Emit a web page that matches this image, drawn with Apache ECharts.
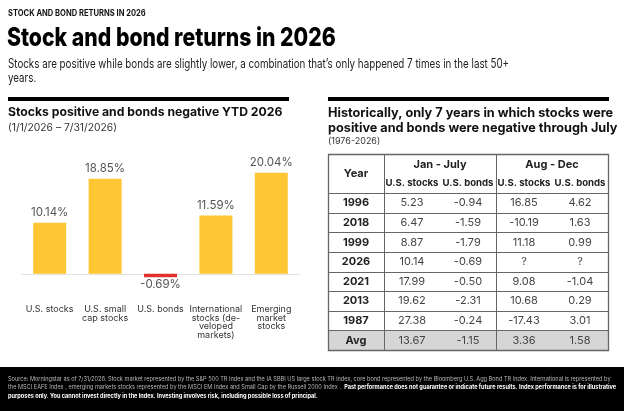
<!DOCTYPE html>
<html>
<head>
<meta charset="utf-8">
<script src="https://cdn.jsdelivr.net/npm/echarts@6/dist/echarts.min.js"></script>
<style>
html,body{margin:0;padding:0;background:#fff;}
#c{width:624px;height:411px;}
</style>
</head>
<body>
<div id="c"></div>
<script>
// ---- Data ----
const barCategories = ['U.S. stocks', 'U.S. small\ncap stocks', 'U.S. bonds', 'International\nstocks (de-\nveloped\nmarkets)', 'Emerging\nmarket\nstocks'];
const barValues = [10.14, 18.85, -0.69, 11.59, 20.04];

const tableYears = ['1996', '2018', '1999', '2026', '2021', '2013', '1987', 'Avg'];
const janStocks = [5.23, 6.47, 8.87, 10.14, 17.99, 19.62, 27.38, 13.67];
const janBonds = [-0.94, -1.59, -1.79, -0.69, -0.50, -2.31, -0.24, -1.15];
const augStocks = [16.85, -10.19, 11.18, null, 9.08, 10.68, -17.43, 3.36];
const augBonds = [4.62, 1.63, 0.99, null, -1.04, 0.29, 3.01, 1.58];
const groupHeaders = ['Jan - July', 'Aug - Dec'];
const subHeaders = ['U.S. stocks', 'U.S. bonds', 'U.S. stocks', 'U.S. bonds'];

const FONT = 'Inter, "Noto Sans", sans-serif';
const YELLOW = '#FFC634';
const RED = '#E0312B';

// ---- Build table cells ----
const tableCols = ['c0', 'c1', 'c2', 'c3', 'c4'];
const tableRows = ['h0', 'h1'].concat(tableYears);
const cells = [];
cells.push({ col: 0, row: 0, text: 'Year', rowSpan: 2, kind: 'head' });
groupHeaders.forEach((g, i) => cells.push({ col: 1 + i * 2, row: 0, text: g, colSpan: 2, kind: 'head' }));
subHeaders.forEach((s, i) => cells.push({ col: 1 + i, row: 1, text: s, kind: 'sub' }));
const fmt = v => (v === null ? '?' : v.toFixed(2));
tableYears.forEach((y, i) => {
  const r = i + 2;
  const avg = y === 'Avg';
  cells.push({ col: 0, row: r, text: y, kind: 'year', avg });
  [janStocks, janBonds, augStocks, augBonds].forEach((arr, j) => {
    cells.push({ col: 1 + j, row: r, text: fmt(arr[i]), kind: 'val', avg });
  });
});

// lines: horizontal below rows 1..8, vertical right of col 0 and col 2, outer box
const lines = [];
for (let r = 1; r <= 8; r++) lines.push({ t: 'h', row: r });
lines.push({ t: 'v', col: 0 });
lines.push({ t: 'v', col: 2 });
lines.push({ t: 'box' });

const chart = echarts.init(document.getElementById('c'), null, { renderer: 'canvas' });

const footerGray = '#b8b8b8';
const BORDER = '#666';
const option = {
  backgroundColor: '#fff',
  animation: false,
  textStyle: { fontFamily: FONT },
  grid: [
    { left: 22, right: 325, top: 163, bottom: 112, containLabel: false },
    { left: 328, width: 280, top: 154, height: 196, containLabel: false }
  ],
  xAxis: [
    {
      gridIndex: 0, type: 'category', data: barCategories,
      axisLine: { onZero: true, lineStyle: { color: '#e2e2e2', width: 1 } },
      axisTick: { show: false },
      axisLabel: { margin: 6, fontSize: 9, lineHeight: 8.6, color: '#333', fontFamily: FONT, interval: 0 }
    },
    { gridIndex: 1, type: 'category', data: tableCols, show: false }
  ],
  yAxis: [
    { gridIndex: 0, type: 'value', min: -5, max: 22, show: false, splitLine: { show: false } },
    { gridIndex: 1, type: 'category', data: tableRows, inverse: true, show: false }
  ],
  series: [
    {
      type: 'bar', xAxisIndex: 0, yAxisIndex: 0,
      barWidth: 33,
      data: barValues.map(v => ({
        value: v,
        itemStyle: { color: v < 0 ? RED : YELLOW },
        label: { position: v < 0 ? 'bottom' : 'top', distance: v < 0 ? 1 : 4 }
      })),
      label: {
        show: true, fontSize: 11.5, color: '#555', fontFamily: FONT,
        formatter: p => p.value.toFixed(2) + '%'
      }
    },
    {
      type: 'custom', xAxisIndex: 1, yAxisIndex: 1, silent: true, clip: false,
      data: cells.map(c => [c.col, c.row]),
      renderItem: function (params, api) {
        const cell = cells[params.dataIndex];
        const p = api.coord([api.value(0), api.value(1)]);
        const s = api.size([1, 1]);
        let cx = p[0], cy = p[1], w = s[0], h = s[1];
        if (cell.colSpan) { cx += w * (cell.colSpan - 1) / 2; w *= cell.colSpan; }
        if (cell.rowSpan) { cy += h * (cell.rowSpan - 1) / 2; h *= cell.rowSpan; }
        const children = [];
        if (cell.avg) {
          children.push({ type: 'rect', shape: { x: cx - w / 2, y: cy - h / 2, width: w, height: h }, style: { fill: '#d6d6d6' } });
        }
        const bold = cell.kind !== 'val';
        let fs = 11;
        if (cell.kind === 'sub') fs = 9.6;
        if (cell.kind === 'head') fs = 11;
        let dy = 0;
        if (cell.kind === 'head' && !cell.rowSpan) dy = 1;
        if (cell.kind === 'sub') dy = -0.5;
        children.push({
          type: 'text',
          style: {
            x: cx, y: cy + dy, text: cell.text, align: 'center', verticalAlign: 'middle',
            fontSize: fs, fontWeight: bold ? 'bold' : 'normal', fontFamily: FONT,
            fill: bold ? '#222' : '#444'
          }
        });
        return { type: 'group', children };
      }
    },
    {
      type: 'custom', xAxisIndex: 1, yAxisIndex: 1, silent: true, clip: false, z: 5,
      data: lines.map(() => [0, 0]),
      renderItem: function (params, api) {
        const ln = lines[params.dataIndex];
        const s = api.size([1, 1]);
        const tl = api.coord([0, 0]);
        const br = api.coord([tableCols.length - 1, tableRows.length - 1]);
        const x0 = tl[0] - s[0] / 2, x1 = br[0] + s[0] / 2;
        const y0 = tl[1] - s[1] / 2, y1 = br[1] + s[1] / 2;
        const st = { stroke: BORDER, lineWidth: 1, fill: null };
        if (ln.t === 'h') {
          const y = Math.round(api.coord([0, ln.row])[1] + s[1] / 2) + 0.5;
          return { type: 'line', shape: { x1: x0, y1: y, x2: x1, y2: y }, style: st };
        }
        if (ln.t === 'v') {
          const x = Math.round(api.coord([ln.col, 0])[0] + s[0] / 2) + 0.5;
          return { type: 'line', shape: { x1: x, y1: y0, x2: x, y2: y1 }, style: st };
        }
        return { type: 'rect', shape: { x: Math.round(x0) + 0.5, y: Math.round(y0) + 0.5, width: Math.round(x1 - x0), height: Math.round(y1 - y0) }, style: { stroke: BORDER, lineWidth: 1.3, fill: null } };
      }
    }
  ],
  graphic: [
    { type: 'text', x: 8, y: 8.5, scaleX: 0.88, style: { text: 'STOCK AND BOND RETURNS IN 2026', fontSize: 8.6, fontWeight: 'bold', fill: '#111', fontFamily: FONT } },
    { type: 'text', x: 7, y: 25, scaleX: 0.815, style: { text: 'Stock and bond returns in 2026', fontSize: 26, fontWeight: 800, fill: '#000', fontFamily: FONT } },
    { type: 'text', x: 8, y: 58, scaleX: 0.79, style: { text: 'Stocks are positive while bonds are slightly lower, a combination that\u2019s only happened 7 times in the last 50+\nyears.', fontSize: 12.4, lineHeight: 13.5, fill: '#222', fontFamily: FONT } },
    { type: 'rect', shape: { x: 8, y: 97, width: 281, height: 4 }, style: { fill: '#000' } },
    { type: 'rect', shape: { x: 328, y: 97, width: 281, height: 4 }, style: { fill: '#000' } },
    { type: 'text', x: 8, y: 106, style: { text: 'Stocks positive and bonds negative YTD 2026', fontSize: 12.2, fontWeight: 'bold', fill: '#111', fontFamily: FONT } },
    { type: 'text', x: 8, y: 123, style: { text: '(1/1/2026 \u2013 7/31/2026)', fontSize: 10.3, fill: '#333', fontFamily: FONT } },
    { type: 'text', x: 328, y: 106, style: { text: 'Historically, only 7 years in which stocks were\npositive and bonds were negative through July', fontSize: 12.7, lineHeight: 15, fontWeight: 'bold', fill: '#111', fontFamily: FONT } },
    { type: 'text', x: 328, y: 137, style: { text: '(1976-2026)', fontSize: 9, fill: '#333', fontFamily: FONT } },
    { type: 'rect', shape: { x: 0, y: 367, width: 624, height: 44 }, style: { fill: '#000' } },
    { type: 'text', x: 8, y: 375, style: {
        text: '{g|Source: Morningstar as of 7/31/2026. Stock market represented by the S&P 500 TR Index and the IA SBBI US large stock TR index, core bond represented by the Bloomberg U.S. Agg Bond TR Index. International is represented by}\n' +
              '{g|the MSCI EAFE Index , emerging markets stocks represented by the MSCI EM Index and Small Cap by the Russell 2000 Index .  }{w|Past performance does not guarantee or indicate future results. Index performance is for illustrative}\n' +
              '{w|purposes only. You cannot invest directly in the Index. Investing involves risk, including possible loss of principal.}',
        fontSize: 5.6, lineHeight: 8.5, fontFamily: FONT,
        rich: {
          g: { fontSize: 5.6, lineHeight: 8.5, fill: footerGray, fontFamily: FONT },
          w: { fontSize: 5.6, lineHeight: 8.5, fill: '#fff', fontWeight: 'bold', fontFamily: FONT }
        }
      } }
  ]
};
chart.setOption(option);
</script>
</body>
</html>
